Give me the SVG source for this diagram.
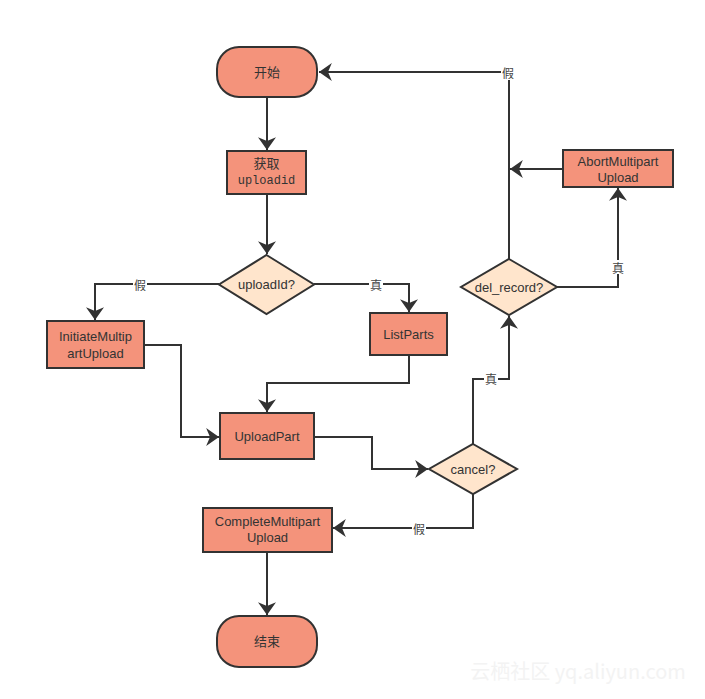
<svg xmlns="http://www.w3.org/2000/svg" width="705" height="699" viewBox="0 0 705 699">
<defs>
<style>
.n{fill:#f4937b;stroke:#323232;stroke-width:2}
.d{fill:#ffe5cc;stroke:#323232;stroke-width:2}
.t{font-family:"Liberation Sans","Noto Sans CJK SC",Arial,sans-serif;font-size:13px;fill:#333;text-anchor:middle;dominant-baseline:central}
.m{font-family:"Liberation Mono","Courier New",monospace;font-size:12px;fill:#333;text-anchor:middle;dominant-baseline:central}
.c{fill:none;stroke:#323232;stroke-width:2}
.l{font-family:"Noto Sans CJK SC",sans-serif;font-size:12px;fill:#444;text-anchor:middle;dominant-baseline:central}
.bg{fill:#fff}
</style>
<marker id="b" viewBox="0 0 10 14" refX="10" refY="7" markerWidth="13" markerHeight="18" markerUnits="userSpaceOnUse" orient="auto">
<path d="M0,0 L10,7 L0,14 L3,7 z" fill="#323232"/>
</marker>
</defs>
<g id="connectors">
<path class="c" d="M267,97 V150" marker-end="url(#b)"/>
<path class="c" d="M267,194 V254" marker-end="url(#b)"/>
<path class="c" d="M314,284 H409 V312" marker-end="url(#b)"/>
<path class="c" d="M219,284 H95 V320" marker-end="url(#b)"/>
<path class="c" d="M409,355 V383 H267 V412" marker-end="url(#b)"/>
<path class="c" d="M144,345 H181 V437 H219" marker-end="url(#b)"/>
<path class="c" d="M314,437 H372 V469 H428" marker-end="url(#b)"/>
<path class="c" d="M473,444 V379 H509 V316" marker-end="url(#b)"/>
<path class="c" d="M473,494 V528 H333" marker-end="url(#b)"/>
<path class="c" d="M267,552 V615" marker-end="url(#b)"/>
<path class="c" d="M557,287 H618 V188" marker-end="url(#b)"/>
<path class="c" d="M563,169 H510" marker-end="url(#b)"/>
<path class="c" d="M509,259 V72 H319" marker-end="url(#b)"/>
<rect class="bg" x="369" y="277" width="14" height="14"/>
<text class="l" x="376" y="284">真</text>
<rect class="bg" x="133" y="277" width="14" height="14"/>
<text class="l" x="140" y="284">假</text>
<rect class="bg" x="484" y="371" width="14" height="14"/>
<text class="l" x="491" y="378">真</text>
<rect class="bg" x="412" y="521" width="14" height="14"/>
<text class="l" x="419" y="528">假</text>
<rect class="bg" x="611" y="260" width="14" height="14"/>
<text class="l" x="618" y="267">真</text>
<rect class="bg" x="501" y="65" width="14" height="15"/>
<text class="l" x="508" y="72">假</text>
</g>
<g id="start">
<rect class="n" x="217" y="47" width="100" height="50" rx="22" ry="22"/>
<text class="t" x="267" y="72">开始</text>
</g>
<g id="get-uploadid">
<rect class="n" x="227" y="151" width="79" height="43"/>
<text class="t" x="266.5" y="163">获取</text>
<text class="m" x="266.5" y="181">uploadid</text>
</g>
<g id="uploadid-decision">
<polygon class="d" points="266.5,255 314,284.5 266.5,314 219,284.5"/>
<text class="t" x="266.5" y="284.5">uploadId?</text>
</g>
<g id="initiate">
<rect class="n" x="47" y="321" width="97" height="47"/>
<text class="t" x="95.5" y="336">InitiateMultip</text>
<text class="t" x="95.5" y="353">artUpload</text>
</g>
<g id="listparts">
<rect class="n" x="370" y="313" width="77" height="42"/>
<text class="t" x="408.5" y="334">ListParts</text>
</g>
<g id="uploadpart">
<rect class="n" x="220" y="413" width="94" height="46"/>
<text class="t" x="267" y="436">UploadPart</text>
</g>
<g id="cancel-decision">
<polygon class="d" points="473,444 517,469 473,494 429,469"/>
<text class="t" x="473" y="469">cancel?</text>
</g>
<g id="complete">
<rect class="n" x="203" y="508" width="129" height="44"/>
<text class="t" x="267.5" y="521">CompleteMultipart</text>
<text class="t" x="267.5" y="537">Upload</text>
</g>
<g id="end">
<rect class="n" x="217" y="616" width="100" height="51" rx="22" ry="22"/>
<text class="t" x="267" y="641.5">结束</text>
</g>
<g id="del-record-decision">
<polygon class="d" points="509,259 557,287 509,315 461,287"/>
<text class="t" x="509" y="287">del_record?</text>
</g>
<g id="abort">
<rect class="n" x="563" y="150" width="110" height="37"/>
<text class="t" x="618" y="161">AbortMultipart</text>
<text class="t" x="618" y="177">Upload</text>
</g>
<text x="578" y="679" font-family="'Noto Sans CJK SC','Liberation Sans',sans-serif" font-size="20" fill="#f3f3f3" text-anchor="middle">云栖社区 yq.aliyun.com</text>
</svg>
